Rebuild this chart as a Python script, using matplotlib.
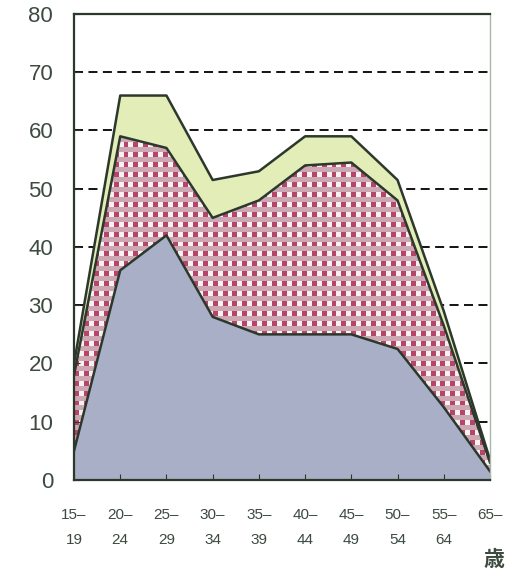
import numpy as np
import matplotlib
matplotlib.use('Agg')
import matplotlib.pyplot as plt

# Data
age_groups = ['15–\n19', '20–\n24', '25–\n29', '30–\n34', '35–\n39',
              '40–\n44', '45–\n49', '50–\n54', '55–\n64', '65–\n']
blue_layer = [5, 36, 42, 28, 25, 25, 25, 22.5, 12.5, 1.5]
red_layer = [13, 23, 15, 17, 23, 29, 29.5, 25.5, 14, 1.5]
green_layer = [2, 7, 9, 6.5, 5, 5, 4.5, 3.5, 2.5, 0.5]
y_ticks = [0, 10, 20, 30, 40, 50, 60, 70, 80]

text_col = '#3c4a40'
line_col = '#2c382c'
blue_col = '#a9afc7'
green_col = '#e3edb7'

x = np.arange(len(age_groups))
blue_top = np.array(blue_layer)
red_top = blue_top + np.array(red_layer)
green_top = red_top + np.array(green_layer)

fig = plt.figure(figsize=(5.18, 5.73), dpi=100)
ax = fig.add_axes([0.1429, 0.1623, 0.803, 0.8133])
ax.set_xlim(0, len(x) - 1)
ax.set_ylim(0, 80)

# dashed grid behind everything
for v in y_ticks[1:-1]:
    ax.axhline(v, color='black', lw=1.3, ls=(0, (5, 3)), zorder=0)

polys = ax.stackplot(x, blue_layer, red_layer, green_layer,
                     colors=[blue_col, '#cba4b1', green_col], zorder=1)

# checkered texture for the middle layer
h, w = 470, 420
yy, xx = np.mgrid[0:h, 0:w]
tex = np.ones((h, w, 3)) * np.array([0.80, 0.66, 0.71])
row_on = (yy % 10) < 5
col = (xx // 5) % 2
tex[row_on & (col == 0)] = [0.72, 0.27, 0.42]
tex[row_on & (col == 1)] = [0.97, 0.95, 0.94]
im = ax.imshow(tex, extent=[0, len(x) - 1, 0, 80], aspect='auto',
               interpolation='nearest', zorder=1.5)
im.set_clip_path(polys[1].get_paths()[0], ax.transData)

for top in (blue_top, red_top, green_top):
    ax.plot(x, top, color=line_col, lw=1.8, zorder=3)

for s in ['left', 'bottom', 'top']:
    ax.spines[s].set_color(line_col)
    ax.spines[s].set_linewidth(1.6)
ax.spines['right'].set_color('#a9b8aa')
ax.spines['right'].set_linewidth(1.0)
for s in ax.spines.values():
    s.set_zorder(4)

ax.set_yticks(y_ticks)
ax.set_yticklabels([str(v) for v in y_ticks], fontsize=16,
                   color=text_col, family='Liberation Sans')
ax.set_xticks(x)
ax.set_xticklabels(age_groups, fontsize=11, color=text_col,
                   family='Liberation Sans', linespacing=2.0,
                   va='top')
ax.tick_params(axis='y', direction='in', length=4, pad=15, color=line_col)
ax.tick_params(axis='x', direction='in', length=4, pad=20, color=line_col)

fig.text(0.953, 0.023, '歳', fontsize=15, color=text_col, fontweight='bold',
         family=['Noto Sans CJK JP', 'DejaVu Sans'], ha='center', va='center')

fig.savefig('out.png', dpi=100)
